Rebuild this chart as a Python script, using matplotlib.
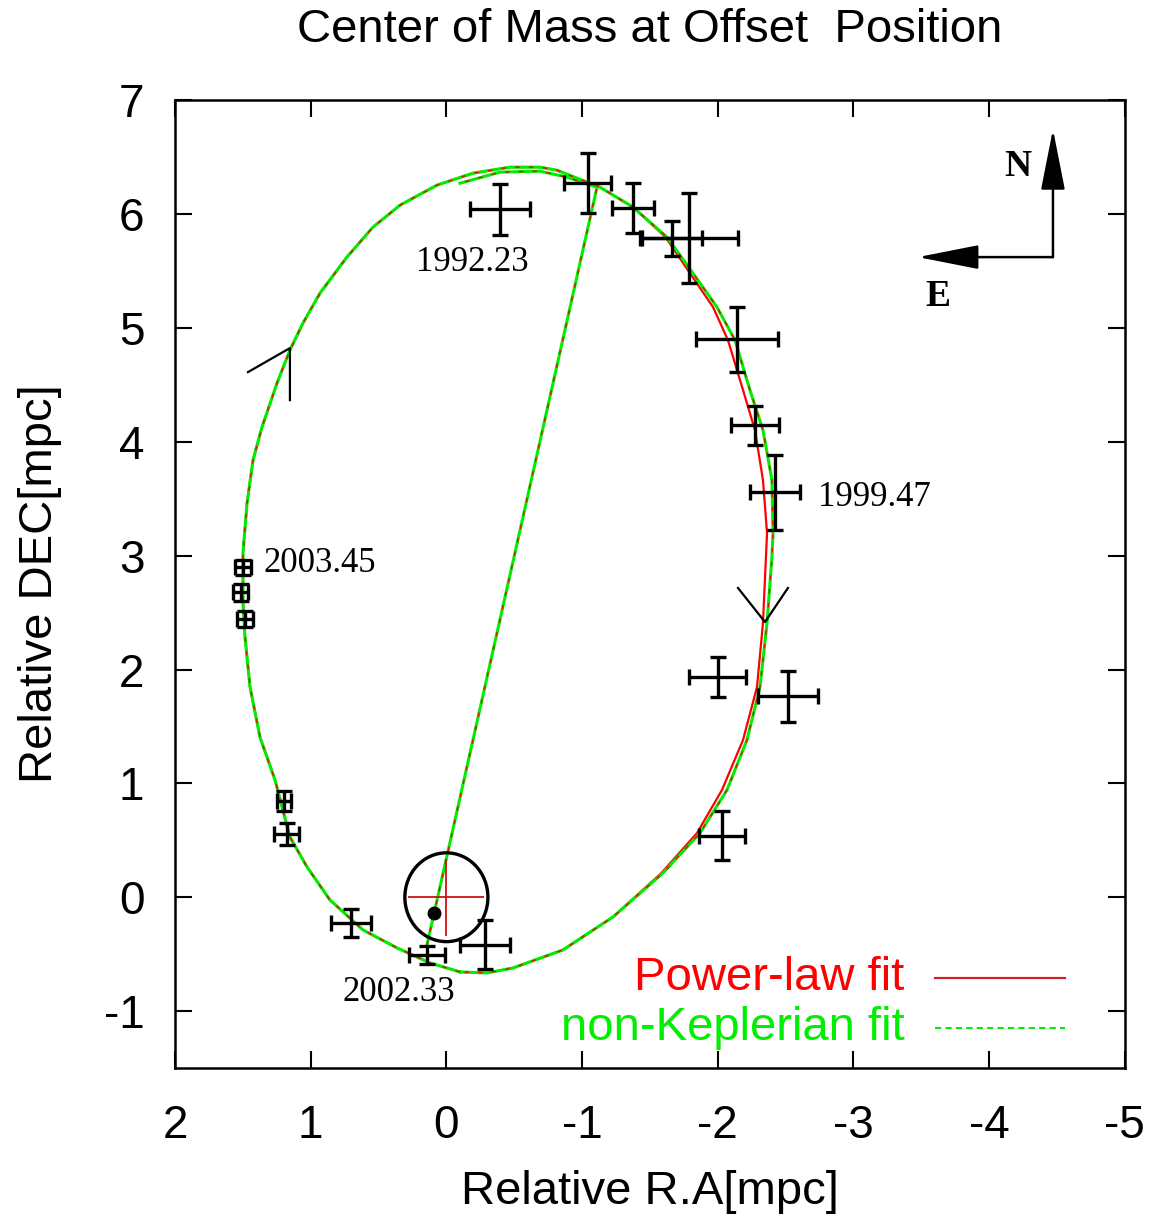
import matplotlib.pyplot as plt
import numpy as np
from matplotlib.patches import Ellipse

plt.rcParams['font.family'] = ['Liberation Sans', 'DejaVu Sans']
plt.rcParams['axes.unicode_minus'] = False

# non-Keplerian fit, outer loop
green_x = [-0.100, 0.121, 0.364, 0.615, 0.858, 1.027, 1.153, 1.263, 1.374, 1.447,
           1.484, 1.499, 1.499, 1.469, 1.425, 1.359, 1.248, 1.153, 1.057, 0.931,
           0.733, 0.541, 0.342, 0.069, -0.196, -0.469, -0.690, -0.815, -0.962, -1.132,
           -1.375, -1.626, -1.817, -1.994, -2.127, -2.237, -2.333, -2.399, -2.407, -2.399,
           -2.363, -2.311, -2.215, -2.068, -1.869, -1.596, -1.228, -0.859, -0.491, -0.299,
           -0.100]
green_y = [-0.656, -0.577, -0.445, -0.287, -0.024, 0.266, 0.529, 1.030, 1.407, 1.846,
           2.285, 2.584, 3.023, 3.462, 3.839, 4.129, 4.515, 4.805, 5.042, 5.306,
           5.622, 5.885, 6.078, 6.254, 6.359, 6.412, 6.412, 6.385, 6.315, 6.236,
           6.061, 5.797, 5.481, 5.183, 4.893, 4.454, 4.103, 3.664, 3.198, 2.988,
           2.408, 1.846, 1.381, 0.942, 0.564, 0.213, -0.173, -0.463, -0.621, -0.665,
           -0.656]

# power-law fit, outer loop
red_x = [-0.100, 0.121, 0.364, 0.615, 0.858, 1.027, 1.153, 1.263, 1.374, 1.447,
         1.484, 1.499, 1.499, 1.469, 1.425, 1.359, 1.248, 1.153, 1.057, 0.931,
         0.733, 0.541, 0.342, 0.069, -0.196, -0.469, -0.690, -0.815, -0.962, -1.132,
         -1.375, -1.615, -1.795, -1.965, -2.075, -2.186, -2.274, -2.333, -2.363, -2.355,
         -2.333, -2.289, -2.186, -2.031, -1.847, -1.585, -1.228, -0.859, -0.491, -0.299,
         -0.100]
red_y = green_y

# chord and inner arc shared by both fits
chord_x = [0.143, -1.110, -0.889, -0.690, -0.395, -0.100]
chord_y = [-0.419, 6.236, 6.324, 6.377, 6.368, 6.271]

# measured positions with errors
obs_x = [-0.395, -1.043, -1.375, -1.663, -1.788, -2.141, -2.274, -2.422, -2.001, -2.517,
         -2.031, -0.284, 0.143, 0.703, 1.175, 1.197, 1.499, 1.514, 1.484]
obs_y = [6.043, 6.271, 6.052, 5.788, 5.788, 4.902, 4.147, 3.558, 1.934, 1.767,
         0.538, -0.419, -0.507, -0.226, 0.556, 0.845, 2.900, 2.680, 2.443]
obs_xerr = [0.221, 0.173, 0.158, 0.220, 0.360, 0.300, 0.177, 0.184, 0.210, 0.221,
            0.170, 0.184, 0.133, 0.147, 0.092, 0.050, 0.060, 0.055, 0.059]
obs_yerr = [0.224, 0.263, 0.220, 0.154, 0.395, 0.285, 0.171, 0.330, 0.176, 0.224,
            0.215, 0.215, 0.075, 0.127, 0.097, 0.088, 0.066, 0.075, 0.070]

epoch_labels = ['1992.23', '1999.47', '2003.45', '2002.33']
epoch_x = [-0.189, -3.151, 0.931, 0.349]
epoch_y = [5.578, 3.514, 2.935, -0.840]

com_x, com_y = 0.091, -0.138

fig = plt.figure(figsize=(11.49, 12.22), dpi=100)
ax = fig.add_axes([0.1523, 0.126, 0.8267, 0.792])

ax.plot(red_x, red_y, color='red', lw=1.6, zorder=2)
for xs, ys in [(green_x, green_y), (chord_x, chord_y)]:
    ax.plot(xs, ys, color='#00ee00', lw=2.2, zorder=3, solid_joinstyle='round')
    ax.plot(xs, ys, color='#d02000', lw=1.1, ls=(0, (3, 6)), zorder=4)

ax.errorbar(obs_x, obs_y, xerr=obs_xerr, yerr=obs_yerr, fmt='none', ecolor='black',
            elinewidth=2.4, capsize=6, capthick=2.4, zorder=5)

# central position: circle + red cross
ax.add_patch(Ellipse((0, 0), 0.612, 0.78, fill=False, ec='black', lw=2.4, zorder=5))
ax.errorbar([0], [0], xerr=[0.28], yerr=[0.34], fmt='none', ecolor='#d01010', elinewidth=1.3, zorder=4)
ax.plot([com_x], [com_y], 'o', color='black', ms=9, zorder=6)

# direction of motion
ax.plot([1.462, 1.153, 1.153], [4.612, 4.823, 4.366], color='black', lw=1.6, zorder=6)
ax.plot([-2.149, -2.348, -2.517], [2.716, 2.417, 2.716], color='black', lw=1.6, zorder=6)

for lab, x, y in zip(epoch_labels, epoch_x, epoch_y):
    ax.text(x, y, lab, family='Liberation Serif', fontsize=25, ha='center', va='center')

# compass
ax.annotate('', xy=(-4.47, 6.745), xytext=(-4.47, 5.622),
            arrowprops=dict(arrowstyle='-|>,head_length=3.8,head_width=0.75', lw=1.8, color='black',
                            shrinkA=0, shrinkB=0))
ax.annotate('', xy=(-3.475, 5.622), xytext=(-4.47, 5.622),
            arrowprops=dict(arrowstyle='-|>,head_length=3.8,head_width=0.75', lw=1.8, color='black',
                            shrinkA=0, shrinkB=0))
ax.text(-4.21, 6.42, 'N', family='Liberation Serif', weight='bold', fontsize=27, ha='center', va='center')
ax.text(-3.62, 5.28, 'E', family='Liberation Serif', weight='bold', fontsize=27, ha='center', va='center')

# legend (right-aligned text, sample line after it)
ax.text(0.768, 0.093, 'Power-law fit', color='red', fontsize=34, ha='right', va='center',
        transform=ax.transAxes)
ax.text(0.768, 0.041, 'non-Keplerian fit', color='#00ee00', fontsize=34, ha='right', va='center',
        transform=ax.transAxes)
ax.plot([0.8, 0.937], [0.093, 0.093], color='#d02020', lw=1.6, transform=ax.transAxes)
ax.plot([0.8, 0.937], [0.041, 0.041], color='#00ee00', lw=1.5, ls=(0, (3, 2)), transform=ax.transAxes)

ax.set_xlim(2, -5)
ax.set_ylim(-1.5, 7)
ax.set_xticks(np.arange(2, -6, -1))
ax.set_yticks(np.arange(-1, 8, 1))
ax.tick_params(direction='in', length=12, width=1.5, top=True, right=True, labelsize=33)
ax.tick_params(axis='x', pad=26)
ax.tick_params(axis='y', pad=22)
for s in ax.spines.values():
    s.set_linewidth(1.8)

ax.set_title('Center of Mass at Offset  Position', fontsize=34, pad=42)
ax.set_xlabel('Relative R.A[mpc]', fontsize=34, labelpad=16)
ax.set_ylabel('Relative DEC[mpc]', fontsize=34, labelpad=30)

fig.savefig('out.png', dpi=100)
